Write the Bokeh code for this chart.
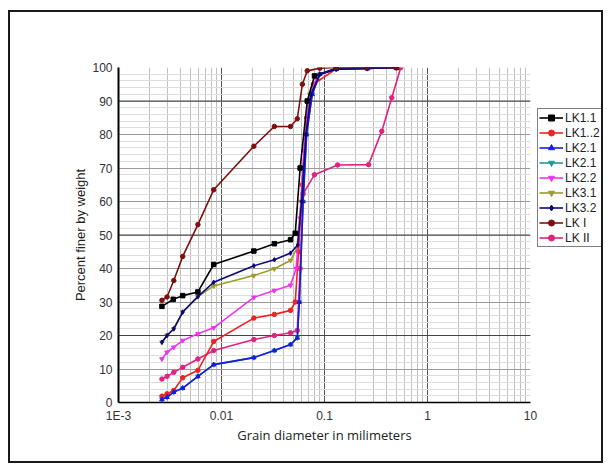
from bokeh.plotting import figure
from bokeh.models import Legend, LegendItem, FixedTicker, Span, Range1d
from bokeh.layouts import row
from bokeh.embed import file_html
from bokeh.resources import INLINE

# ---------------- data ----------------
series_names = ["LK1.1", "LK1..2", "LK2.1", "LK2.1", "LK2.2", "LK3.1", "LK3.2", "LK I", "LK II"]

lk11_x = [0.00264, 0.0034, 0.0042, 0.0059, 0.0084, 0.0206, 0.0326, 0.0468, 0.052, 0.058, 0.068, 0.08, 0.13, 0.26, 0.5]
lk11_y = [28.7, 30.8, 31.9, 33.0, 41.2, 45.2, 47.4, 48.6, 50.5, 70, 90, 97.5, 99.8, 100, 100]

lk12_x = [0.00264, 0.00296, 0.00344, 0.0042, 0.0059, 0.0084, 0.0206, 0.0326, 0.0468, 0.052, 0.056, 0.061, 0.067, 0.078, 0.13, 0.26, 0.5]
lk12_y = [1.9, 2.6, 3.6, 7.4, 9.6, 18.2, 25.2, 26.3, 27.5, 30, 45, 65, 85, 95, 99.6, 99.8, 100]

lk21_x = [0.00264, 0.00296, 0.00344, 0.0042, 0.0059, 0.0084, 0.0206, 0.0326, 0.0468, 0.0544, 0.057, 0.062, 0.067, 0.076, 0.09, 0.13, 0.26, 0.5]
lk21_y = [0.9, 1.6, 3.1, 4.3, 7.8, 11.3, 13.4, 15.5, 17.3, 19.3, 30, 60, 80, 92, 98, 99.5, 99.7, 100]

lk21b_x = [0.00264, 0.00296, 0.00344, 0.0042, 0.0059, 0.0084, 0.0206, 0.0326, 0.0468, 0.0544, 0.057, 0.062, 0.067, 0.076, 0.09, 0.13, 0.26, 0.5]
lk21b_y = [0.9, 1.6, 3.1, 4.3, 7.8, 11.3, 13.4, 15.5, 17.3, 19.3, 30, 60, 80, 92, 98, 99.5, 99.7, 100]

lk22_x = [0.00264, 0.00296, 0.00344, 0.0042, 0.0059, 0.0084, 0.0206, 0.0326, 0.0468, 0.053, 0.058, 0.063, 0.07, 0.085, 0.13, 0.26, 0.5]
lk22_y = [13.0, 15.0, 16.5, 18.5, 20.5, 22.3, 31.4, 33.4, 35.0, 40, 55, 75, 90, 97.5, 99.6, 99.8, 100]

lk31_x = [0.00264, 0.00296, 0.00344, 0.0042, 0.0059, 0.0084, 0.0206, 0.0326, 0.0468, 0.054, 0.059, 0.065, 0.072, 0.09, 0.13, 0.26, 0.5]
lk31_y = [18.0, 20.0, 22.0, 27.0, 31.6, 34.8, 37.9, 39.9, 42.4, 46, 60, 80, 92, 98, 99.5, 99.7, 100]

lk32_x = [0.00264, 0.00296, 0.00344, 0.0042, 0.0059, 0.0084, 0.0206, 0.0326, 0.0468, 0.055, 0.06, 0.066, 0.074, 0.09, 0.13, 0.26, 0.5]
lk32_y = [18.0, 20.0, 22.0, 27.0, 31.6, 35.9, 40.8, 42.6, 44.6, 47, 60, 80, 92, 98, 99.5, 99.7, 100]

lki_x = [0.00264, 0.00296, 0.00344, 0.0042, 0.0059, 0.0084, 0.0206, 0.0326, 0.0468, 0.0544, 0.061, 0.068, 0.09, 0.13, 0.26, 0.5]
lki_y = [30.5, 31.5, 36.4, 43.6, 53.1, 63.5, 76.5, 82.4, 82.4, 84.7, 95, 99, 99.8, 100, 100, 100]

lkii_x = [0.00264, 0.00296, 0.00344, 0.0042, 0.0059, 0.0084, 0.0206, 0.0326, 0.0468, 0.0544, 0.058, 0.062, 0.08, 0.134, 0.268, 0.36, 0.45, 0.55]
lkii_y = [7.0, 7.8, 9.0, 10.5, 13.0, 15.5, 18.8, 20.0, 20.8, 21.5, 40, 62.3, 68, 70.9, 71, 81, 91, 100]

x_ticks = [0.001, 0.01, 0.1, 1, 10]
x_tick_labels = ["1E-3", "0.01", "0.1", "1", "10"]
y_ticks = [0, 10, 20, 30, 40, 50, 60, 70, 80, 90, 100]
dark_y_lines = [20, 50, 90]

# ---------------- main figure ----------------
p = figure(width=527, height=449, x_axis_type="log", x_range=(0.001, 10), y_range=(0, 100),
           output_backend="svg", toolbar_location=None,
           min_border_left=108, min_border_right=7, min_border_top=55, min_border_bottom=59)
p.outline_line_color = None
p.background_fill_color = "white"

minor_x = [k * d for d in x_ticks[:-1] for k in range(2, 10)]
minor_y = [v for v in range(0, 101, 2) if v % 10 != 0]

p.xaxis.ticker = FixedTicker(ticks=x_ticks, minor_ticks=minor_x)
p.yaxis.ticker = FixedTicker(ticks=y_ticks, minor_ticks=minor_y)
p.xaxis.major_label_overrides = {t: s for t, s in zip(x_ticks, x_tick_labels)}

for ax in (p.xaxis, p.yaxis):
    ax.major_tick_line_color = None
    ax.minor_tick_line_color = None
    ax.major_label_text_font = "Liberation Sans"
    ax.major_label_text_font_size = "12px"
    ax.major_label_text_color = "#333333"
    ax.axis_line_color = "black"
    ax.axis_label_text_font_style = "normal"
    ax.axis_label_text_color = "#222222"

p.yaxis.major_label_standoff = 0
p.xaxis.major_label_standoff = 0
p.yaxis.axis_line_width = 2
p.xaxis.axis_line_width = 1.5
p.xaxis.axis_label = "Grain diameter in milimeters"
p.xaxis.axis_label_text_font = "Open Sans"
p.xaxis.axis_label_text_font_size = "13px"
p.xaxis.axis_label_standoff = 0
p.yaxis.axis_label = "Percent finer by weight"
p.yaxis.axis_label_text_font = "Liberation Sans"
p.yaxis.axis_label_text_font_size = "13px"
p.yaxis.axis_label_standoff = 1

p.xgrid.grid_line_color = "#555555"
p.xgrid.minor_grid_line_color = "#c0c0c0"
p.ygrid.grid_line_color = "#9a9a9a"
p.ygrid.minor_grid_line_color = "#dddddd"

for v in dark_y_lines:
    p.add_layout(Span(location=v, dimension="width", line_color="#444444", line_width=1, level="underlay"))

# ---------------- series ----------------
specs = {
    "lk11": (lk11_x, lk11_y, "#000000", "square"),
    "lk12": (lk12_x, lk12_y, "#ee2222", "circle"),
    "lk21": (lk21_x, lk21_y, "#1a1ae0", "triangle"),
    "lk21b": (lk21b_x, lk21b_y, "#1f9a9a", "inverted_triangle"),
    "lk22": (lk22_x, lk22_y, "#f033f0", "inverted_triangle"),
    "lk31": (lk31_x, lk31_y, "#9c9c2a", "inverted_triangle"),
    "lk32": (lk32_x, lk32_y, "#0a0a78", "diamond"),
    "lki": (lki_x, lki_y, "#7e0f0f", "circle"),
    "lkii": (lkii_x, lkii_y, "#e0237f", "circle"),
}
draw_order = ["lk21b", "lk31", "lkii", "lk12", "lk22", "lk11", "lk21", "lk32", "lki"]
legend_order = ["lk11", "lk12", "lk21", "lk21b", "lk22", "lk31", "lk32", "lki", "lkii"]

for key in draw_order:
    xs, ys, col, mk = specs[key]
    p.line(xs, ys, line_color=col, line_width=1.6)
    p.scatter(xs, ys, marker=mk, size=4.5, fill_color=col, line_color=col)

# ---------------- legend panel: narrow companion figure ----------------
# (its ranges keep the proxy series out of view; only the legend shows)
pl = figure(width=64, height=449, output_backend="svg", toolbar_location=None,
            x_range=Range1d(0, 1), y_range=Range1d(200, 300),
            x_axis_location=None, y_axis_location=None,
            min_border_left=0, min_border_right=0, min_border_top=55, min_border_bottom=59)
pl.outline_line_color = None
pl.xgrid.visible = False
pl.ygrid.visible = False

items = []
for name, key in zip(series_names, legend_order):
    xs, ys, col, mk = specs[key]
    l1 = pl.line(xs, ys, line_color=col, line_width=1.6)
    l2 = pl.scatter(xs, ys, marker=mk, size=4.5, fill_color=col, line_color=col)
    items.append(LegendItem(label=name, renderers=[l1, l2]))

legend = Legend(items=items, location=(0, 155))
legend.border_line_color = "black"
legend.border_line_width = 1
legend.background_fill_color = "white"
legend.background_fill_alpha = 1
legend.label_text_font = "Liberation Sans"
legend.label_text_font_size = "12px"
legend.label_text_color = "#222222"
legend.glyph_width = 24
legend.glyph_height = 15
legend.label_height = 15
legend.label_standoff = 2
legend.spacing = 0
legend.padding = 1
legend.margin = 0
pl.add_layout(legend)

layout = row(p, pl)
layout.styles = {"border": "2px solid #1a1a1a", "margin": "10px 0px 0px 8px"}

open("out.html", "w").write(file_html(layout, INLINE))
